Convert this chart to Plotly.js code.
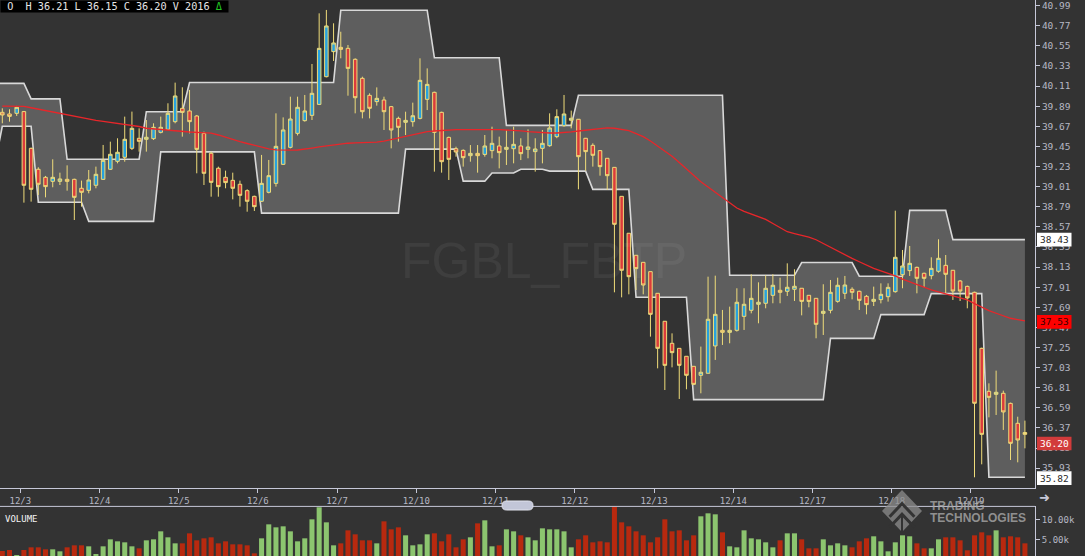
<!DOCTYPE html>
<html><head><meta charset="utf-8">
<script src="https://cdn.plot.ly/plotly-3.0.1.min.js"></script>
<style>html,body{margin:0;padding:0;background:#333333;}#chart{width:1085px;height:556px;}</style>
</head><body><div id="chart"></div>
<script>
// ---- data (bar index 0..142, 11 bars per trading day) ----
const dayLabels = ['12/3','12/4','12/5','12/6','12/7','12/10','12/11','12/12','12/13','12/14','12/17','12/18','12/19'];
const dayTickIndex = [2.5,13.5,24.5,35.5,46.5,57.5,68.5,79.5,90.5,101.5,112.5,123.5,134.5];

const opens = [39.823,39.805,39.812,39.831,39.429,39.200,39.112,39.068,39.068,39.090,
39.090,38.992,38.970,39.025,39.090,39.200,39.287,39.331,39.429,39.539,
39.528,39.535,39.604,39.637,39.721,39.867,39.838,39.783,39.593,39.375,
39.211,39.112,39.079,39.036,38.966,38.904,38.850,38.948,39.046,39.254,
39.440,39.593,39.732,39.790,39.910,40.213,40.487,40.534,40.523,40.403,
40.195,40.009,39.940,39.958,39.885,39.757,39.714,39.721,39.757,39.965,
40.042,39.823,39.549,39.425,39.407,39.349,39.374,39.363,39.404,39.455,
39.418,39.425,39.455,39.418,39.393,39.429,39.458,39.557,39.677,39.736,
39.747,39.539,39.462,39.404,39.320,39.221,38.904,38.500,38.259,38.182,
38.080,37.843,37.537,37.296,37.241,37.154,37.044,36.946,36.968,37.267,
37.438,37.416,37.438,37.591,37.657,37.723,37.734,37.821,37.876,37.865,
37.887,37.898,37.821,37.788,37.624,37.657,37.755,37.843,37.887,37.865,
37.810,37.755,37.774,37.806,37.861,38.047,38.091,38.127,38.062,38.036,
38.084,38.149,38.095,37.978,37.919,37.854,37.241,36.771,36.738,36.749,
36.639,36.421,36.320];
const highs = [39.867,39.856,39.893,39.838,39.437,39.222,39.127,39.309,39.163,39.243,
39.097,39.076,39.192,39.229,39.466,39.502,39.539,39.776,39.831,39.648,
39.739,39.703,39.776,39.922,40.148,40.097,40.068,39.794,39.612,39.393,
39.229,39.185,39.163,39.076,38.981,38.911,39.357,39.302,39.812,39.768,
39.994,39.994,40.013,40.352,40.906,40.943,40.797,40.705,40.560,40.414,
40.213,40.031,40.096,39.994,39.893,39.776,39.830,39.929,40.414,40.304,
40.049,39.830,39.557,39.447,39.418,39.465,39.465,39.575,39.666,39.557,
39.630,39.666,39.539,39.637,39.539,39.630,39.812,39.856,40.013,39.842,
39.750,39.543,39.484,39.411,39.320,39.221,38.904,38.500,38.259,38.182,
38.080,37.843,37.537,37.405,37.241,37.154,37.044,37.260,38.025,38.036,
37.661,37.697,37.898,37.898,38.051,37.963,38.040,38.051,38.014,38.171,
38.106,37.898,37.821,37.788,37.942,37.989,38.014,38.033,37.909,37.872,
37.825,37.916,37.952,37.952,38.747,38.317,38.361,38.135,38.069,38.237,
38.434,38.262,38.098,37.989,37.927,37.861,37.248,36.858,36.997,36.778,
36.647,36.493,36.450];
const lows = [39.703,39.721,39.783,38.835,38.846,38.919,38.893,39.003,39.028,38.966,
38.645,38.791,38.937,38.992,39.083,39.192,39.265,39.283,39.411,39.393,
39.393,39.521,39.593,39.630,39.703,39.557,39.593,39.156,39.028,38.900,
38.900,38.992,38.871,38.791,38.736,38.744,38.842,38.937,39.010,39.247,
39.429,39.570,39.721,39.739,39.903,40.206,40.385,40.414,40.005,39.812,
39.757,39.757,39.896,39.630,39.429,39.502,39.575,39.666,39.746,39.848,
39.174,39.163,39.083,39.338,39.229,39.283,39.163,39.338,39.320,39.210,
39.247,39.265,39.301,39.320,39.174,39.265,39.447,39.540,39.666,39.648,
38.981,39.185,39.229,39.130,38.974,37.854,37.799,37.832,37.879,37.832,
37.369,37.022,36.785,37.033,36.687,36.793,36.840,36.749,36.968,37.114,
37.278,37.296,37.424,37.442,37.624,37.515,37.679,37.734,37.734,37.814,
37.759,37.602,37.690,37.351,37.387,37.624,37.740,37.781,37.777,37.661,
37.613,37.704,37.733,37.752,37.850,37.898,38.033,37.843,37.909,37.996,
38.069,37.843,37.770,37.759,37.679,35.830,35.972,36.486,36.512,36.348,
36.019,35.994,36.147];
const closes = [39.794,39.779,39.878,39.025,38.981,39.036,39.010,39.112,39.094,39.068,
38.893,38.948,39.083,39.145,39.298,39.364,39.386,39.528,39.648,39.506,
39.550,39.659,39.659,39.812,40.002,39.823,39.721,39.418,39.156,39.057,
39.010,39.054,38.992,38.915,38.850,38.791,39.046,39.130,39.451,39.630,
39.750,39.878,39.838,40.031,40.523,40.768,40.582,40.512,40.304,39.983,
39.830,39.867,39.976,39.830,39.630,39.659,39.735,39.786,40.173,40.129,
39.604,39.283,39.309,39.389,39.327,39.374,39.349,39.455,39.484,39.382,
39.440,39.473,39.371,39.444,39.422,39.484,39.652,39.776,39.805,39.758,
39.338,39.393,39.353,39.229,39.130,38.598,38.095,38.025,38.113,37.934,
37.613,37.241,37.055,37.194,37.055,36.946,36.847,36.979,37.559,37.613,
37.416,37.438,37.745,37.723,37.788,37.745,37.898,37.931,37.854,37.909,
37.920,37.755,37.755,37.504,37.646,37.854,37.931,37.934,37.854,37.766,
37.719,37.777,37.832,37.908,38.237,38.142,38.171,38.007,38.007,38.116,
38.226,38.051,37.868,37.868,37.792,36.640,36.300,36.705,36.760,36.545,
36.202,36.238,36.300];
const volumes = [2239,2488,1244,2488,3151,3151,2654,2654,2156,3151,
3649,3649,3400,1493,3400,5142,4644,4395,3400,2903,
4893,5142,7133,5640,4146,4146,6635,4893,5391,5640,
4146,4644,3898,3898,3649,1659,5391,8873,8127,8376,
7133,4644,5391,10118,13150,9370,3649,4146,7380,6386,
4893,4893,4146,9619,7631,8127,6137,3649,3898,6386,
6635,4644,6386,3151,5142,5640,9121,9868,3400,3649,
7631,7133,6137,5640,4893,7880,7631,7631,7133,3151,
5142,6137,4395,4644,4395,13300,9370,8376,7133,6137,
4395,5640,10118,7133,7380,4893,6137,10870,11614,11366,
6883,3400,3151,7380,5391,5142,4395,3151,4893,6635,
6635,5142,2903,2903,5142,3649,4146,3649,3151,4644,
5391,5897,4644,2156,4395,6137,5897,4146,2903,2903,
5142,5640,5640,4893,2413,6137,6883,6137,7380,5640,
5897,5640,4146];
const movingAvg = [39.892,39.892,39.892,39.889,39.873,39.857,39.843,39.828,39.812,39.796,
39.780,39.763,39.748,39.735,39.725,39.715,39.705,39.695,39.685,39.668,
39.649,39.641,39.634,39.627,39.621,39.614,39.608,39.603,39.599,39.595,
39.575,39.548,39.521,39.502,39.482,39.462,39.443,39.424,39.413,39.407,
39.409,39.411,39.419,39.432,39.444,39.455,39.466,39.476,39.485,39.489,
39.492,39.494,39.496,39.509,39.527,39.543,39.561,39.578,39.595,39.611,
39.619,39.625,39.631,39.633,39.634,39.636,39.637,39.636,39.634,39.633,
39.631,39.630,39.621,39.613,39.606,39.599,39.597,39.597,39.601,39.610,
39.619,39.629,39.637,39.645,39.653,39.649,39.638,39.622,39.591,39.557,
39.509,39.453,39.398,39.343,39.273,39.203,39.133,39.064,39.006,38.946,
38.886,38.831,38.776,38.740,38.710,38.681,38.652,38.607,38.561,38.517,
38.497,38.478,38.457,38.429,38.387,38.344,38.302,38.262,38.225,38.188,
38.150,38.115,38.088,38.061,38.033,37.998,37.968,37.937,37.906,37.881,
37.858,37.837,37.816,37.793,37.770,37.730,37.691,37.654,37.625,37.598,
37.570,37.555,37.541];
// channel bands, starting one bar before the first visible bar
const upperBand = [40.14,40.14,40.14,40.14,40.14,
39.97,39.97,39.97,39.97,39.97,
39.31,39.31,39.31,39.31,39.31,39.31,39.31,39.31,39.31,39.31,39.31,
39.83,39.83,39.83,39.83,39.83,39.83,
40.15,40.15,40.15,40.15,40.15,40.15,40.15,40.15,40.15,40.15,40.15,40.15,40.15,40.15,40.15,40.15,40.15,40.15,40.15,40.15,40.15,
40.94,40.94,40.94,40.94,40.94,40.94,40.94,40.94,40.94,40.94,40.94,40.94,40.94,
40.42,40.42,40.42,40.42,40.42,40.42,40.42,40.42,40.42,40.42,
39.68,39.68,39.68,39.68,39.68,39.68,39.68,39.68,39.68,39.68,
40.01,40.01,40.01,40.01,40.01,40.01,40.01,40.01,40.01,40.01,40.01,40.01,40.01,40.01,40.01,40.01,40.01,40.01,40.01,40.01,40.01,
38.04,38.04,38.04,38.04,38.04,38.04,38.04,38.04,38.04,38.04,
38.18,38.18,38.18,38.18,38.18,38.18,38.18,38.18,
38.03,38.03,38.03,38.03,38.03,38.03,38.03,
38.75,38.75,38.75,38.75,38.75,38.75,
38.43,38.43,38.43,38.43,38.43,38.43,38.43,38.43,38.43,38.43,38.43];
const lowerBand = [39.27,
39.67,39.67,39.67,39.67,39.67,
38.84,38.84,38.84,38.84,38.84,38.84,38.84,
38.63,38.63,38.63,38.63,38.63,38.63,38.63,38.63,38.63,38.63,
39.39,39.39,39.39,39.39,39.39,39.39,39.39,39.39,39.39,39.39,39.39,39.39,39.39,39.39,
38.72,38.72,38.72,38.72,38.72,38.72,38.72,38.72,38.72,38.72,38.72,38.72,38.72,38.72,38.72,38.72,38.72,38.72,38.72,38.72,
39.42,39.42,39.42,39.42,39.42,39.42,39.42,39.42,
39.07,39.07,39.07,39.07,
39.16,39.16,39.16,39.16,
39.20,39.20,39.20,39.20,
39.18,39.18,39.18,39.18,39.18,39.18,
38.98,38.98,38.98,38.98,38.98,38.98,
37.80,37.80,37.80,37.80,37.80,37.80,37.80,37.80,
36.68,36.68,36.68,36.68,36.68,36.68,36.68,36.68,36.68,36.68,36.68,36.68,36.68,36.68,36.68,36.68,36.68,36.68,36.68,
37.35,37.35,37.35,37.35,37.35,37.35,37.35,
37.61,37.61,37.61,37.61,37.61,37.61,37.61,
37.84,37.84,37.84,37.84,37.84,37.84,37.84,37.84,
35.83,35.83,35.83,35.83,35.83,35.83];
const priceTicks = [35.93,36.15,36.37,36.59,36.81,37.03,37.25,37.47,37.69,37.91,38.13,38.35,
38.57,38.79,39.01,39.23,39.45,39.67,39.89,40.11,40.33,40.55,40.77,40.99];
const volumeTicks = [5000, 10000];
const volumeTickText = ['5.00k', '10.00k'];
const tags = [
  {value: 38.43, label: '38.43', bg: '#ffffff', fg: '#2a2a2a'},
  {value: 37.53, label: '37.53', bg: '#ff0000', fg: '#3a0000'},
  {value: 36.20, label: '36.20', bg: '#d23b3b', fg: '#ffffff'},
  {value: 35.82, label: '35.82', bg: '#ffffff', fg: '#2a2a2a'}
];
const headerText = '\u00a0O\u00a0\u00a0H 36.21 L 36.15 C 36.20 V 2016 ';
const symbolName = 'FGBL_FBTP';

// ---- build ----
const idx = closes.map((_, i) => i);
const bandIdx = upperBand.map((_, i) => i - 1);
const volColors = closes.map((c, i) => c >= opens[i] ? '#8cc56f' : '#b8290f');

const axisCol = '#c6c8d8';
const labelCol = '#b6b8c4';
const mono = 'DejaVu Sans Mono';
const priceRange = [35.713, 41.052];

const traces = [
  {type:'scatter', mode:'lines', x:bandIdx, y:lowerBand, line:{color:'#d8d8d8', width:1.6}, hoverinfo:'skip', showlegend:false},
  {type:'scatter', mode:'lines', x:bandIdx, y:upperBand, fill:'tonexty', fillcolor:'#5e5e5e', line:{color:'#d8d8d8', width:1.6}, hoverinfo:'skip', showlegend:false},
  {type:'bar', x:idx, y:volumes, xaxis:'x', yaxis:'y2', marker:{color:volColors}, hoverinfo:'skip', showlegend:false},
  {type:'candlestick', x:idx, open:opens, high:highs, low:lows, close:closes, xaxis:'x', yaxis:'y3',
   increasing:{line:{color:'#efdc7a', width:1}, fillcolor:'#27a2de'},
   decreasing:{line:{color:'#efdc7a', width:1}, fillcolor:'#dc3b3b'},
   whiskerwidth:0, showlegend:false, hoverinfo:'skip'},
  {type:'scatter', mode:'lines', x:idx, y:movingAvg, xaxis:'x', yaxis:'y3', line:{color:'#e8262a', width:1.3}, hoverinfo:'skip', showlegend:false}
];

const H = 556, W = 1035;
const py = p => (H - p) / H;   // pixel row -> paper y
const px = p => p / W;         // pixel col -> paper x

const shapes = [
  {type:'line', xref:'paper', yref:'paper', x0:0, x1:1, y0:py(506.4), y1:py(506.4), line:{color:axisCol, width:1}, layer:'above'}
];
tags.forEach(t => {
  shapes.push({type:'rect', xref:'paper', yref:'y', x0:px(1037), x1:px(1071.5), y0:t.value-0.075, y1:t.value+0.075,
    fillcolor:t.bg, line:{width:0}, layer:'above'});
});
(function(){
  const x0=px(502), x1=px(533), y0=py(510), y1=py(501), rx=px(4.5), ry=4.5/H;
  shapes.push({type:'path', xref:'paper', yref:'paper', layer:'above',
    path:`M ${x0+rx},${y0} L ${x1-rx},${y0} Q ${x1},${y0} ${x1},${y0+ry} L ${x1},${y1-ry} Q ${x1},${y1} ${x1-rx},${y1} L ${x0+rx},${y1} Q ${x0},${y1} ${x0},${y1-ry} L ${x0},${y0+ry} Q ${x0},${y0} ${x0+rx},${y0} Z`,
    fillcolor:'#c2c6d8', line:{color:'#e2e4ee', width:1}});
})();
(function(){
  const cx=px(902), cy=py(511), dx=px(20), dy=21/H;
  shapes.push({type:'path', xref:'paper', yref:'paper', layer:'above', opacity:0.75,
    path:`M ${cx},${cy+dy} L ${cx+dx},${cy} L ${cx},${cy-dy} L ${cx-dx},${cy} Z`,
    fillcolor:'#8e8e8e', line:{width:0}});
  const ch = (off) => `M ${cx-dx*0.62},${cy+dy*(off-0.62)} L ${cx},${cy+dy*off} L ${cx+dx*0.62},${cy+dy*(off-0.62)}`;
  shapes.push({type:'path', xref:'paper', yref:'paper', layer:'above', path:ch(0.35), line:{color:'#333333', width:3}});
  shapes.push({type:'path', xref:'paper', yref:'paper', layer:'above', path:ch(-0.15), line:{color:'#333333', width:3}});
  shapes.push({type:'line', xref:'paper', yref:'paper', layer:'above', x0:cx, x1:cx, y0:cy-dy*0.15, y1:cy-dy, line:{color:'#333333', width:2}});
})();

const annotations = [
  {xref:'paper', yref:'paper', x:0, y:1, xanchor:'left', yanchor:'top', showarrow:false,
   text: headerText + '<span style="color:#22c722">\u0394</span>\u00a0',
   font:{family:mono, size:10.2, color:'#e6e6e6'}, bgcolor:'#000000', borderpad:0},
  {xref:'paper', yref:'paper', x:px(544), y:py(261), xanchor:'center', yanchor:'middle', showarrow:false, text:symbolName,
   font:{family:'Liberation Sans', size:50, color:'rgba(255,255,255,0.055)'}},
  {xref:'paper', yref:'paper', x:px(3), y:py(519), xanchor:'left', yanchor:'middle', showarrow:false, text:'VOLUME',
   font:{family:mono, size:9, color:'#f2f2f2'}},
  {xref:'paper', yref:'paper', x:px(1044), y:py(497), xanchor:'center', yanchor:'middle', showarrow:false, text:'\u279C',
   font:{family:'DejaVu Sans', size:13, color:axisCol}},
  {xref:'paper', yref:'paper', x:px(928), y:py(506), xanchor:'left', yanchor:'middle', showarrow:false, text:'<b>TRADING</b>',
   font:{family:'Liberation Sans', size:12, color:'rgba(170,170,170,0.8)'}},
  {xref:'paper', yref:'paper', x:px(928), y:py(517.5), xanchor:'left', yanchor:'middle', showarrow:false, text:'<b>TECHNOLOGIES</b>',
   font:{family:'Liberation Sans', size:12, color:'rgba(170,170,170,0.8)'}}
];
tags.forEach(t => {
  annotations.push({xref:'paper', yref:'y', x:px(1054.3), y:t.value, xanchor:'center', yanchor:'middle', showarrow:false, text:t.label,
    font:{family:mono, size:9.5, color:t.fg}});
});

const layout = {
  width:1085, height:556,
  margin:{l:0, r:50, t:0, b:0, pad:0},
  paper_bgcolor:'#333333', plot_bgcolor:'#333333',
  showlegend:false, bargap:0.3, boxgap:0.3,
  xaxis:{domain:[0,1], anchor:'y', range:[-0.32, 143.4], showgrid:false, zeroline:false,
    showline:true, linecolor:axisCol, linewidth:1, ticks:'outside', ticklen:4, tickcolor:axisCol,
    tickvals:dayTickIndex, ticktext:dayLabels, tickfont:{family:mono, size:9, color:labelCol},
    rangeslider:{visible:false}, fixedrange:true},
  yaxis:{domain:[py(488), 1], range:priceRange, side:'right', showgrid:false, zeroline:false,
    showline:true, linecolor:axisCol, linewidth:1, ticks:'outside', ticklen:4, tickcolor:axisCol,
    tickvals:priceTicks, ticktext:priceTicks.map(v => v.toFixed(2)), ticklabeloverflow:'allow',
    tickfont:{family:mono, size:9.5, color:labelCol}, fixedrange:true},
  yaxis2:{domain:[0, py(506.4)], anchor:'x', range:[995, 13336], side:'right', showgrid:false, zeroline:false,
    showline:true, linecolor:axisCol, linewidth:1, ticks:'outside', ticklen:4, tickcolor:axisCol,
    tickvals:volumeTicks, ticktext:volumeTickText,
    tickfont:{family:mono, size:9, color:labelCol}, fixedrange:true},
  yaxis3:{overlaying:'y', anchor:'x', side:'right', range:priceRange, visible:false, showgrid:false, zeroline:false, fixedrange:true},
  shapes: shapes,
  annotations: annotations
};

Plotly.newPlot('chart', traces, layout, {staticPlot:true, displayModeBar:false});
</script>
</body></html>
